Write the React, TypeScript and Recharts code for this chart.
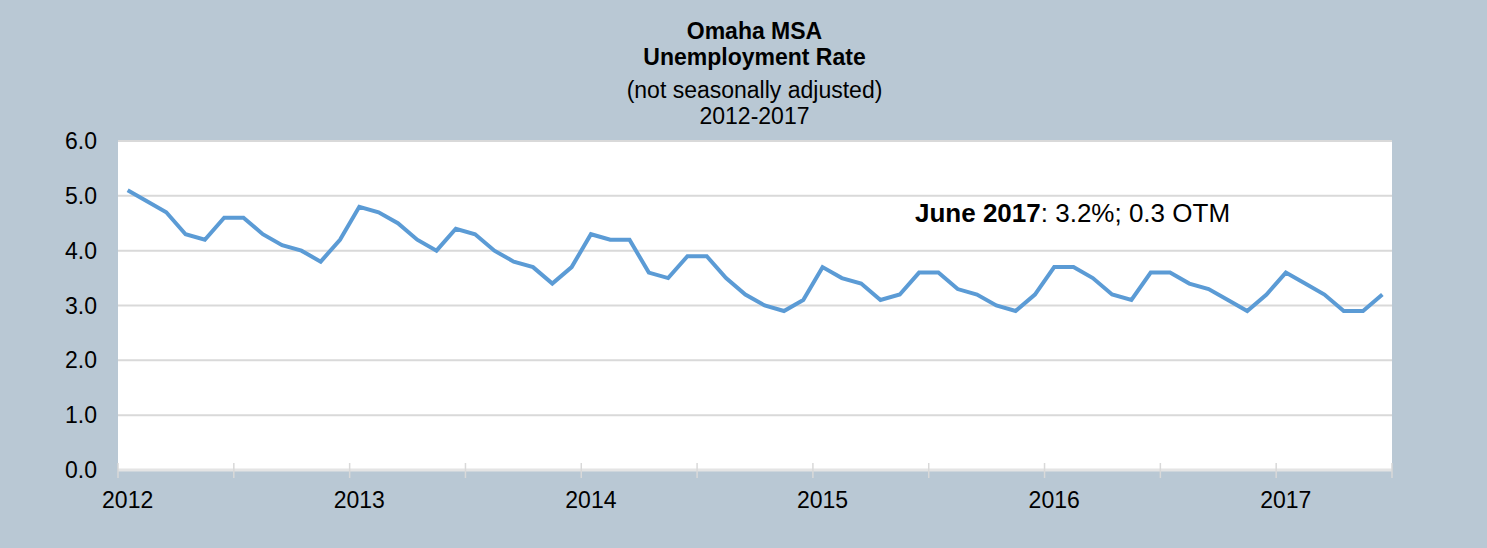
import React from "react";
import { LineChart, Line, XAxis, YAxis, CartesianGrid } from "recharts";

const years = [2012, 2013, 2014, 2015, 2016, 2017];
const rate2012 = [5.1, 4.9, 4.7, 4.3, 4.2, 4.6, 4.6, 4.3, 4.1, 4.0, 3.8, 4.2];
const rate2013 = [4.8, 4.7, 4.5, 4.2, 4.0, 4.4, 4.3, 4.0, 3.8, 3.7, 3.4, 3.7];
const rate2014 = [4.3, 4.2, 4.2, 3.6, 3.5, 3.9, 3.9, 3.5, 3.2, 3.0, 2.9, 3.1];
const rate2015 = [3.7, 3.5, 3.4, 3.1, 3.2, 3.6, 3.6, 3.3, 3.2, 3.0, 2.9, 3.2];
const rate2016 = [3.7, 3.7, 3.5, 3.2, 3.1, 3.6, 3.6, 3.4, 3.3, 3.1, 2.9, 3.2];
const rate2017 = [3.6, 3.4, 3.2, 2.9, 2.9, 3.2];
const yTicks = [0, 1, 2, 3, 4, 5, 6];
const titleLines = ["Omaha MSA", "Unemployment Rate", "(not seasonally adjusted)", "2012-2017"];

const allRates = [...rate2012, ...rate2013, ...rate2014, ...rate2015, ...rate2016, ...rate2017];
const data = allRates.map((v, i) => ({ idx: i + 0.5, rate: v }));
const xTicks = Array.from({ length: 12 }, (_, i) => i * 6);

const W = 1487;
const H = 548;
const M = { top: 141, right: 95, left: 0, bottom: 0 };
const YW = 118;
const XH = 78;
const HALF = (W - YW - M.right) / allRates.length / 2;
const FONT = "'Liberation Sans', Arial, sans-serif";
const BG = "#B9C8D4";

function XTick(props: any) {
  const { x, y, payload } = props;
  const v = payload.value as number;
  const showLabel = v % 12 === 0 && v / 12 < years.length;
  return (
    <g>
      <line x1={x} x2={x} y1={y - 7} y2={y + 8} stroke="#D9D9D9" strokeWidth={1.5} />
      {showLabel && (
        <text x={x + HALF} y={y + 38} textAnchor="middle" fontSize={23} fontFamily={FONT} fill="#000">
          {years[v / 12]}
        </text>
      )}
    </g>
  );
}

export default function App() {
  const titleCenters = [31, 57, 90, 116];
  return (
    <div style={{ position: "absolute", left: 0, top: 0, width: W, height: H, background: BG, fontFamily: FONT }}>
      <LineChart width={W} height={H} data={data} margin={M}>
        <CartesianGrid vertical={false} horizontal stroke="#D9D9D9" strokeWidth={2} fill="#FFFFFF" fillOpacity={1} />
        <XAxis
          dataKey="idx"
          type="number"
          domain={[0, 66]}
          ticks={xTicks}
          interval={0}
          height={XH}
          tickSize={0}
          tickMargin={0}
          tickLine={false}
          axisLine={{ stroke: "#E4E4E4", strokeWidth: 3 }}
          tick={<XTick />}
          allowDataOverflow
        />
        <YAxis
          domain={[0, 6]}
          ticks={yTicks}
          interval={0}
          width={YW}
          axisLine={false}
          tickLine={false}
          tickSize={0}
          tickMargin={21}
          tickFormatter={(v: number) => v.toFixed(1)}
          tick={{ fontSize: 23, fontFamily: FONT, fill: "#000" }}
        />
        <Line
          type="linear"
          dataKey="rate"
          stroke="#5B9BD5"
          strokeWidth={4}
          dot={false}
          isAnimationActive={false}
        />
      </LineChart>
      {titleLines.map((t, i) => (
        <div
          key={t}
          style={{
            position: "absolute",
            left: 0,
            width: W,
            paddingLeft: 22,
            boxSizing: "border-box",
            top: titleCenters[i] - 12,
            height: 24,
            lineHeight: "24px",
            textAlign: "center",
            fontSize: 23,
            fontWeight: i < 2 ? "bold" : "normal",
            color: "#000",
          }}
        >
          {t}
        </div>
      ))}
      <div
        style={{
          position: "absolute",
          left: 915,
          top: 198,
          lineHeight: "30px",
          fontSize: 26,
          color: "#000",
          whiteSpace: "nowrap",
        }}
      >
        <b>June 2017</b>: 3.2%; 0.3 OTM
      </div>
    </div>
  );
}
